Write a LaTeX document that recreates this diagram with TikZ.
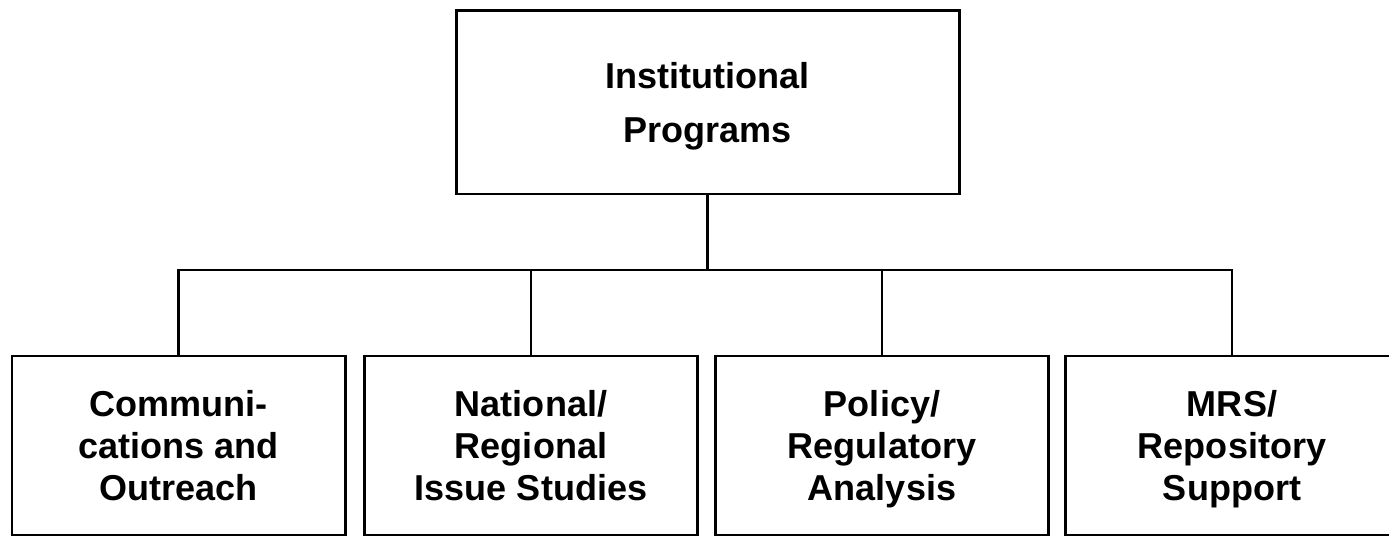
\documentclass[tikz,border=0pt]{standalone}
\usepackage{fontspec}
\setmainfont{Liberation Sans}
\usetikzlibrary{positioning}

\begin{document}
\begin{tikzpicture}[
    orgbox/.style={draw=black, line width=1.7pt, fill=white, align=center,
      font=\fontsize{20.5}{24}\selectfont\bfseries, text depth=0pt},
    unitbox/.style={orgbox, minimum width=6.66cm, minimum height=3.58cm},
    link/.style={draw=black, line width=1.2pt}
  ]
  \useasboundingbox (0,0) rectangle (27.78,10.74);

  % Head office
  \node[orgbox, minimum width=10.06cm, minimum height=3.66cm,
    font=\fontsize{20.5}{31}\selectfont\bfseries] (inst) at (14.15,8.69) {Institutional\\Programs};

  % Bus line
  \coordinate (bus) at (14.15,5.34);

  % Units: Communications, National, Policy, MRS
  \node[unitbox] (comm) at (3.57,1.83) {Communi-\\cations and\\Outreach};
  \node[unitbox] (natl) at (10.62,1.83) {National/\\Regional\\Issue Studies};
  \node[unitbox] (policy) at (17.64,1.83) {Policy/\\Regulatory\\Analysis};
  \node[unitbox] (mrs) at (24.64,1.83) {MRS/\\Repository\\Support};

  % Connectors
  \draw[link] (inst.south) -- (bus);
  \foreach \u in {comm,natl,policy,mrs}
    \draw[link] (bus) -| (\u.north);
\end{tikzpicture}
\end{document}
